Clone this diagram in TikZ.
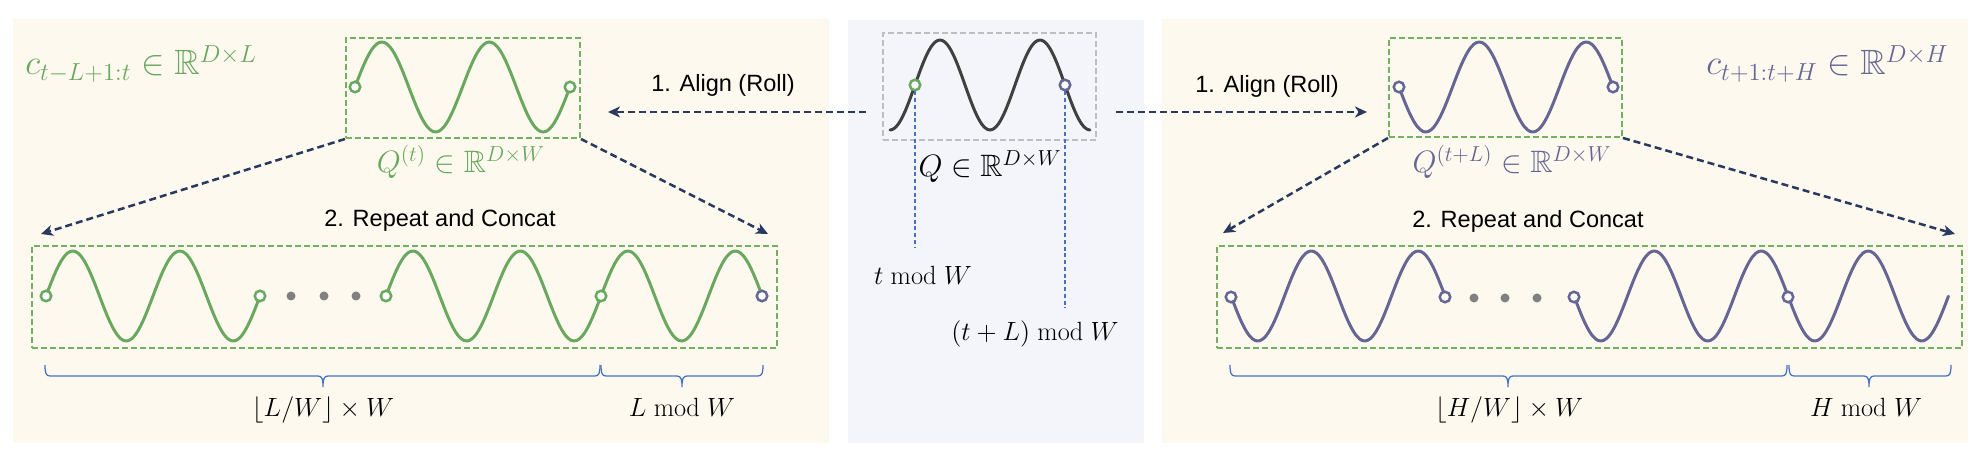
\RequirePackage{fix-cm}
\documentclass[tikz,border=0pt]{standalone}
\usepackage{amsmath,amssymb}
\usepackage{fontspec}
\newfontfamily\arialfont{Liberation Sans}
\usetikzlibrary{arrows.meta, calc, fit}

\definecolor{creambg}{RGB}{254,249,238}
\definecolor{midbg}{RGB}{243,245,251}
\definecolor{wgreen}{RGB}{106,168,96}
\definecolor{boxgreen}{RGB}{116,176,100}
\definecolor{wpurple}{RGB}{102,102,148}
\definecolor{wdark}{RGB}{64,64,64}
\definecolor{navy}{RGB}{40,58,96}
\definecolor{guideblue}{RGB}{68,114,196}
\definecolor{dotgray}{RGB}{128,128,128}
\definecolor{boxgray}{RGB}{190,190,190}

\newcommand{\spanbrace}[3]{%
  \draw[spanline] (#1,365) .. controls (#1,373) and (#1+1,376) .. (#1+5,376) -- (#3-5,376)
    .. controls (#3-1,376) and (#3,379) .. (#3,387) .. controls (#3,379) and (#3+1,376) .. (#3+5,376)
    -- (#2-5,376) .. controls (#2-1,376) and (#2,373) .. (#2,365);}

\begin{document}
\begin{tikzpicture}[
        x=0.2mm, y=-0.2mm,
        panel/.style={inner sep=0pt, draw=none},
        winbox/.style={draw=boxgreen, line width=0.4mm, dash pattern=on 1.15mm off 0.65mm, inner sep=0pt},
        graybox/.style={winbox, draw=boxgray},
        flow/.style={-{Stealth[length=2.4mm, width=2.2mm, inset=0.7mm]}, draw=navy, line width=0.5mm, dash pattern=on 1.4mm off 0.8mm},
        guide/.style={draw=guideblue, line width=0.3mm, dash pattern=on 0.8mm off 0.55mm},
        spanline/.style={draw=guideblue, line width=0.25mm},
        gwave/.style={draw=wgreen, line width=0.6mm, line cap=round, line join=round},
        pwave/.style={gwave, draw=wpurple},
        kwave/.style={gwave, draw=wdark},
        gknot/.style={circle, draw=wgreen, fill=white, line width=0.5mm, minimum size=2.1mm, inner sep=0pt},
        pknot/.style={gknot, draw=wpurple},
        ellip/.style={circle, fill=dotgray, minimum size=1.8mm, inner sep=0pt},
        stepname/.style={font=\arialfont\fontsize{13.4}{16}\selectfont, text=black, inner sep=0pt},
        biglbl/.style={font=\fontsize{17.6}{20}\selectfont, inner sep=0pt},
        seqlbl/.style={font=\fontsize{20}{24}\selectfont, inner sep=0pt},
        smalllbl/.style={font=\fontsize{15}{18}\selectfont, text=black, inner sep=0pt}
    ]
    \useasboundingbox (0,0) rectangle (1984,463);

    \node (lpanel) [panel, fill=creambg, fit={(13,19) (829,443)}] {};
    \node (mpanel) [panel, fill=midbg, fit={(848,20) (1144,443)}] {};
    \node (rpanel) [panel, fill=creambg, fit={(1162,19) (1968,443)}] {};

    \node (qbox) [graybox, fit={(883,33) (1096,140)}] {};
    \node (qt) [winbox, fit={(346,38) (580,138)}] {};
    \node (qtl) [winbox, fit={(1389,38) (1622,137)}] {};
    \node (rowL) [winbox, fit={(32,246) (777,348)}] {};
    \node (rowH) [winbox, fit={(1217,246) (1962,348)}] {};

    \coordinate (tcut) at (915,247);
    \coordinate (tlcut) at (1065,308);

    \draw[kwave] plot[domain=0:2, samples=81, smooth] ({890+100*\x}, {85+45*cos(360*\x)});
    \draw[gwave] plot[domain=0:2, samples=81, smooth] ({355+107.5*\x}, {87-45*sin(360*\x)});
    \draw[pwave] plot[domain=0:2, samples=81, smooth] ({1399+107*\x}, {87+45*sin(360*\x)});
    \draw[gwave] plot[domain=0:2, samples=81, smooth] ({46+107*\x}, {296-45*sin(360*\x)});
    \draw[gwave] plot[domain=0:3.5, samples=141, smooth] ({386+107.5*\x}, {296-45*sin(360*\x)});
    \draw[pwave] plot[domain=0:2, samples=81, smooth] ({1231+107*\x}, {296+45*sin(360*\x)});
    \draw[pwave] plot[domain=0:3.5, samples=141, smooth] ({1574+107*\x}, {296+45*sin(360*\x)});

    \node (mg) [gknot] at (915,85) {};
    \node (mp) [pknot] at (1065,85) {};
    \draw[guide] (mg) -- (tcut);
    \draw[guide] (mp) -- (tlcut);

    \node (qt1) [gknot] at (355,87) {};
    \node (qt2) [gknot] at (570,87) {};
    \node (qtl1) [pknot] at (1399,87) {};
    \node (qtl2) [pknot] at (1613,87) {};

    \node (l1) [gknot] at (46,296) {};
    \node (l2) [gknot] at (260,296) {};
    \node (l3) [gknot] at (386,296) {};
    \node (l4) [gknot] at (601,296) {};
    \node (l5) [pknot] at (762,296) {};
    \node (h1) [pknot] at (1231,297) {};
    \node (h2) [pknot] at (1445,297) {};
    \node (h3) [pknot] at (1574,297) {};
    \node (h4) [pknot] at (1788,297) {};
    \foreach \px [count=\i] in {291,324,356} \node (ld\i) [ellip] at (\px,296) {};
    \foreach \px [count=\i] in {1474,1505,1537} \node (hd\i) [ellip] at (\px,298) {};

    \draw[flow] ($(qbox.west)+(-16,25.5)$) -- ($(qt.east)+(27,24)$);
    \draw[flow] ($(qbox.east)+(19,25.5)$) -- ($(qtl.west)+(-21,24.5)$);
    \draw[flow] (qt.south west) -- ($(rowL.north west)+(10,-11)$);
    \draw[flow] (qt.south east) -- ($(rowL.north east)+(-10,-11)$);
    \draw[flow] (qtl.south west) -- ($(rowH.north west)+(7,-12)$);
    \draw[flow] (qtl.south east) -- ($(rowH.north east)+(-8,-11)$);

    \spanbrace{45}{600}{323}
    \spanbrace{601}{763}{682}
    \spanbrace{1230}{1787}{1508}
    \spanbrace{1789}{1951}{1869}

    \node (alignL) [stepname, anchor=base] at (723,92) {1. Align (Roll)};
    \node (alignR) [stepname, anchor=base] at (1267,93) {1. Align (Roll)};
    \node (repL) [stepname, anchor=base] at (440,227) {2. Repeat and Concat};
    \node (repR) [stepname, anchor=base] at (1528,228) {2. Repeat and Concat};

    \node (clab) [seqlbl, text=wgreen, anchor=base west] at (25,75) {$c_{t-L+1:t}\in\mathbb{R}^{D\times L}$};
    \node (hlab) [seqlbl, text=wpurple, anchor=base west] at (1706,75) {$c_{t+1:t+H}\in\mathbb{R}^{D\times H}$};
    \node (qtlab) [biglbl, text=wgreen, anchor=base] at (461,173) {$Q^{(t)}\in\mathbb{R}^{D\times W}$};
    \node (qtllab) [biglbl, text=wpurple, anchor=base] at (1512,173) {$Q^{(t+L)}\in\mathbb{R}^{D\times W}$};
    \node (qlab) [biglbl, anchor=base] at (990,177) {$Q\in\mathbb{R}^{D\times W}$};

    \node (tmod) [smalllbl, anchor=base] at (923,285) {$t \bmod W$};
    \node (tlmod) [smalllbl, anchor=base] at (1035,341) {$(t+L) \bmod W$};
    \node (lfl) [smalllbl, anchor=base] at (323,417) {$\lfloor L/W\rfloor\times W$};
    \node (lmod) [smalllbl, anchor=base] at (682,417) {$L \bmod W$};
    \node (hfl) [smalllbl, anchor=base] at (1509,417) {$\lfloor H/W\rfloor\times W$};
    \node (hmod) [smalllbl, anchor=base] at (1866,417) {$H \bmod W$};

\end{tikzpicture}
\end{document}
